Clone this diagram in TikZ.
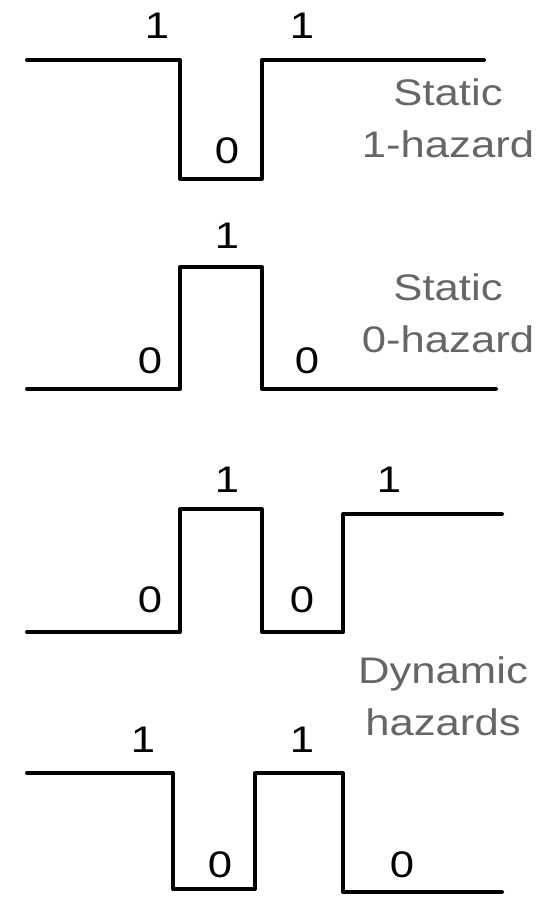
\documentclass[tikz,border=0pt]{standalone}
\usepackage{fontspec}
\setmainfont{Liberation Sans}[FakeStretch=1.18]
\usepackage{tikz}

\begin{document}
\begin{tikzpicture}[x=1pt, y=-1pt,
    wave/.style={line width=4pt, line cap=round, line join=round, black},
    bit/.style={anchor=base, inner sep=0pt, font=\fontsize{37}{52}\selectfont},
    note/.style={anchor=north, inner sep=0pt, align=center, text=black!60,
                 font=\fontsize{37}{52}\selectfont}]
    % 画布范围
    \useasboundingbox (0,0) rectangle (548,898);

    % 静态 1 冒险：1 -> 0 -> 1
    \draw[wave] (27,60) -- (180,60) -- (180,179) -- (262,179) -- (262,60) -- (484,60);
    \node[bit] (s1a) at (157,38) {1};
    \node[bit] (s1b) at (227,163) {0};
    \node[bit] (s1c) at (302,38) {1};
    \node[note] (s1note) at (448,78) {Static\\1-hazard};

    % 静态 0 冒险：0 -> 1 -> 0
    \draw[wave] (27,389) -- (180,389) -- (180,267) -- (262,267) -- (262,389) -- (496,389);
    \node[bit] (s0a) at (150,373) {0};
    \node[bit] (s0b) at (227,248) {1};
    \node[bit] (s0c) at (307,373) {0};
    \node[note] (s0note) at (448,273) {Static\\0-hazard};

    % 动态冒险：0 -> 1 -> 0 -> 1
    \draw[wave] (27,632) -- (180,632) -- (180,509) -- (262,509) -- (262,632)
                -- (343,632) -- (343,514) -- (502,514);
    \node[bit] (d1a) at (150,612) {0};
    \node[bit] (d1b) at (227,492) {1};
    \node[bit] (d1c) at (302,612) {0};
    \node[bit] (d1d) at (389,492) {1};

    % 动态冒险：1 -> 0 -> 1 -> 0
    \draw[wave] (27,773) -- (173,773) -- (173,889) -- (255,889) -- (255,773)
                -- (343,773) -- (343,892) -- (502,892);
    \node[bit] (d2a) at (143,752) {1};
    \node[bit] (d2b) at (220,877) {0};
    \node[bit] (d2c) at (302,752) {1};
    \node[bit] (d2d) at (402,877) {0};
    \node[note] (dnote) at (443,656) {Dynamic\\hazards};
\end{tikzpicture}
\end{document}
